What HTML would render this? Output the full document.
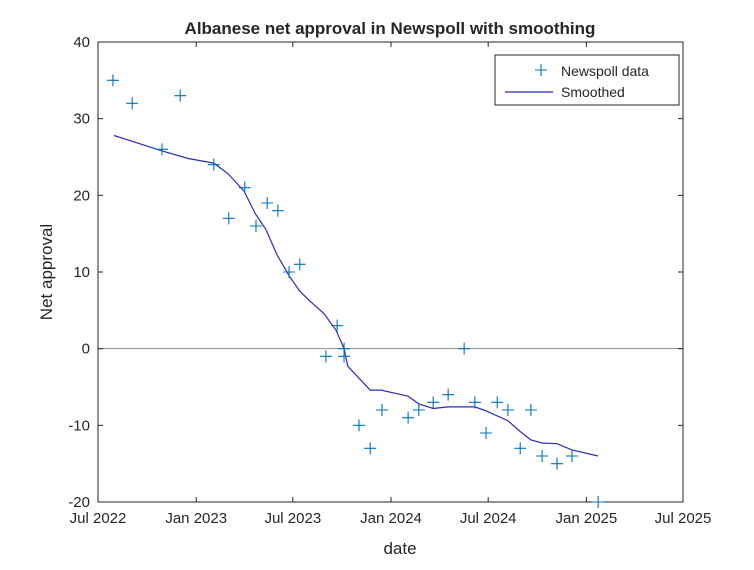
<!DOCTYPE html>
<html><head><meta charset="utf-8"><style>
body{margin:0;background:#fff;}
svg text{font-family:"Liberation Sans",Arial,sans-serif;fill:#262626;}
</style></head><body>
<svg width="754" height="565" viewBox="0 0 754 565">
<rect x="0" y="0" width="754" height="565" fill="#fff"/>
<g id="plot"></g>
</svg>
<script>
const pointDays=[28,64,120,154,217,245,275,296,317,337,358,378,448,427,461,461,489,510,532,581,601,628,656,686,706,727,748,768,791,811,832,860,888,937];
const pointValues=[35,32,26,33,24,17,21,16,19,18,10,11,3,-1,-1,0,-10,-13,-8,-9,-8,-7,-6,0,-7,-11,-7,-8,-13,-8,-14,-15,-14,-20];
const smoothDays=[30,120,169,217,244,274,294,315,335,358,378,397,423,446,461,468,510,530,581,601,628,656,706,727,768,791,811,832,860,888,937];
const smoothValues=[27.8,25.8,24.8,24.2,22.8,20.5,17.7,15.5,12.3,9.5,7.5,6.2,4.6,2.4,0,-2.3,-5.4,-5.4,-6.2,-7.2,-7.8,-7.6,-7.6,-8.1,-9.4,-10.8,-11.9,-12.3,-12.4,-13.2,-14];
const xTickDays=[0,184,365,549,731,915,1096];
const xTickLabels=["Jul 2022","Jan 2023","Jul 2023","Jan 2024","Jul 2024","Jan 2025","Jul 2025"];
const yTicks=[-20,-10,0,10,20,30,40];

const L=98,R=683,T=42,B=502;
const xs=d=>L+(d/1096)*(R-L);
const ys=v=>B-(v+20)/60*(B-T);
const NS="http://www.w3.org/2000/svg";
const g=document.getElementById('plot');
function mk(tag,attrs,parent){const e=document.createElementNS(NS,tag);for(const k in attrs)e.setAttribute(k,attrs[k]);(parent||g).appendChild(e);return e;}

let zl=mk('line',{x1:L,x2:R,y1:ys(0),y2:ys(0),stroke:'#8c8c8c','stroke-width':1});



let box=mk('rect',{x:L,y:T,width:R-L,height:B-T,fill:'none',stroke:'#262626','stroke-width':1});



yTicks.forEach(v=>{
  const y=ys(v);
  mk('line',{x1:L,x2:L+5,y1:y,y2:y,stroke:'#262626'});
  mk('line',{x1:R,x2:R-5,y1:y,y2:y,stroke:'#262626'});
  const t=mk('text',{x:L-8,y:y+5,'text-anchor':'end','font-size':15});
  t.textContent=v;
  
  
});
xTickDays.forEach((d,i)=>{
  const x=xs(d);
  mk('line',{x1:x,x2:x,y1:B,y2:B-5,stroke:'#262626'});
  mk('line',{x1:x,x2:x,y1:T,y2:T+5,stroke:'#262626'});
  const t=mk('text',{x:x,y:B+21,'text-anchor':'middle','font-size':15});
  t.textContent=xTickLabels[i];
  
  
});

let pts=smoothDays.map((d,i)=>xs(d).toFixed(1)+','+ys(smoothValues[i]).toFixed(1)).join(' ');
let line=mk('polyline',{points:pts,fill:'none',stroke:'#2b2bb8','stroke-width':1.2});



pointDays.forEach((d,i)=>{
  const x=xs(d),y=ys(pointValues[i]);
  const p=mk('path',{d:`M${x-6},${y}H${x+6}M${x},${y-6}V${y+6}`,stroke:'#0072bd','stroke-width':1.1,fill:'none'});
  
  
});
</script>
<svg width="754" height="565" style="position:absolute;left:0;top:0">
<text x="390" y="34" text-anchor="middle" font-size="17" font-weight="bold" fill="#000">Albanese net approval in Newspoll with smoothing</text>
<text x="400" y="554" text-anchor="middle" font-size="17">date</text>
<text transform="translate(52,272) rotate(-90)" text-anchor="middle" font-size="17">Net approval</text>
<g>
<rect x="495" y="55" width="184" height="50" fill="#fff" stroke="#262626" stroke-width="1"/>
<path d="M535,70H547M541,64V76" stroke="#0072bd" stroke-width="1.1"/>
<text x="561" y="76" font-size="14">Newspoll data</text>
<line x1="505" x2="553" y1="92" y2="92" stroke="#2b2bb8" stroke-width="1.2"/>
<text x="561" y="97" font-size="14">Smoothed</text>
</g>
</svg>
</body></html>
